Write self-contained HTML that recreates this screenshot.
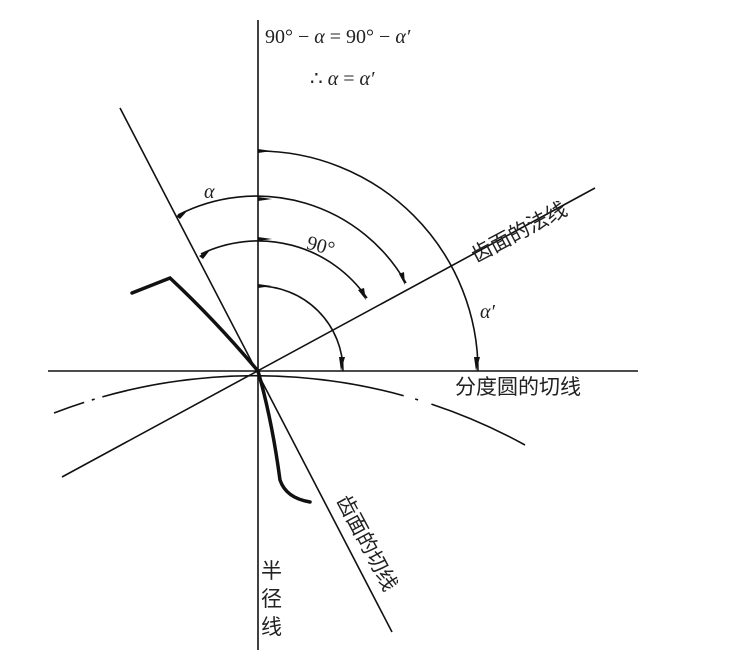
<!DOCTYPE html>
<html><head><meta charset="utf-8"><style>
html,body{margin:0;padding:0;background:#fff;}
svg{display:block}
text{fill:#222}
</style></head><body>
<svg width="729" height="656" viewBox="0 0 729 656" xmlns="http://www.w3.org/2000/svg">
<g stroke="#111" fill="none" stroke-width="1.6">
<line x1="258" y1="20" x2="258" y2="650"/>
<line x1="48" y1="371" x2="638" y2="371"/>
<line x1="595" y1="188" x2="62" y2="477"/>
<line x1="120" y1="108" x2="392" y2="632"/>
<path d="M54,413 A 560 560 0 0 1 525,445" stroke-dasharray="32,8,3,8,305,12,3,14,400"/>
<path d="M258,286 A85 85 0 0 1 343,371"/>
<path d="M201,254 A132 132 0 0 1 367,298"/>
<path d="M178,215 A172 172 0 0 1 406,283"/>
<path d="M258,151 A220 220 0 0 1 478,371"/>
<path d="M132,293 L170,278 Q215,320 258,371 Q272,420 280,480 Q286,498 310,502" stroke-width="3.5" stroke-linecap="round"/>
</g>
<g fill="#111">
<polygon points="258,284 272,286 258,288"/>
<polygon points="258,149 272,151 258,153"/>
<polygon points="258,197 272,199 258,201"/>
<polygon points="258,237 272,239 258,241"/>
<polygon points="176,216 188,210 180,219"/>
<polygon points="199,256 210,250 203,259"/>
<polygon points="341,371 339,357 345,357"/>
<polygon points="476,371 474,357 480,357"/>
<polygon points="366,300 358,290 364,288"/>
<polygon points="405,285 399,274 404,272"/>
</g>
<g font-family="'Liberation Serif',serif" font-size="20">
<text x="265" y="43">90° − <tspan font-style="italic">α</tspan> = 90° − <tspan font-style="italic">α′</tspan></text>
<text x="310" y="85">∴ <tspan font-style="italic">α</tspan> = <tspan font-style="italic">α′</tspan></text>
<text x="204" y="198" font-style="italic">α</text>
<text x="480" y="318" font-style="italic">α′</text>
<text x="307" y="252" transform="rotate(15 320 245)">90°</text>
</g>
<g font-family="'Liberation Sans','Noto Sans CJK SC',sans-serif" font-size="21" fill="#222">
<text x="455" y="394">分度圆的切线</text>
<text x="476" y="263" transform="rotate(-28 476 263)">齿面的法线</text>
<text x="336" y="500" transform="rotate(62 336 500)">齿面的切线</text>
<text x="261" y="578">半</text>
<text x="261" y="606">径</text>
<text x="261" y="634">线</text>
</g>
</svg>
</body></html>
